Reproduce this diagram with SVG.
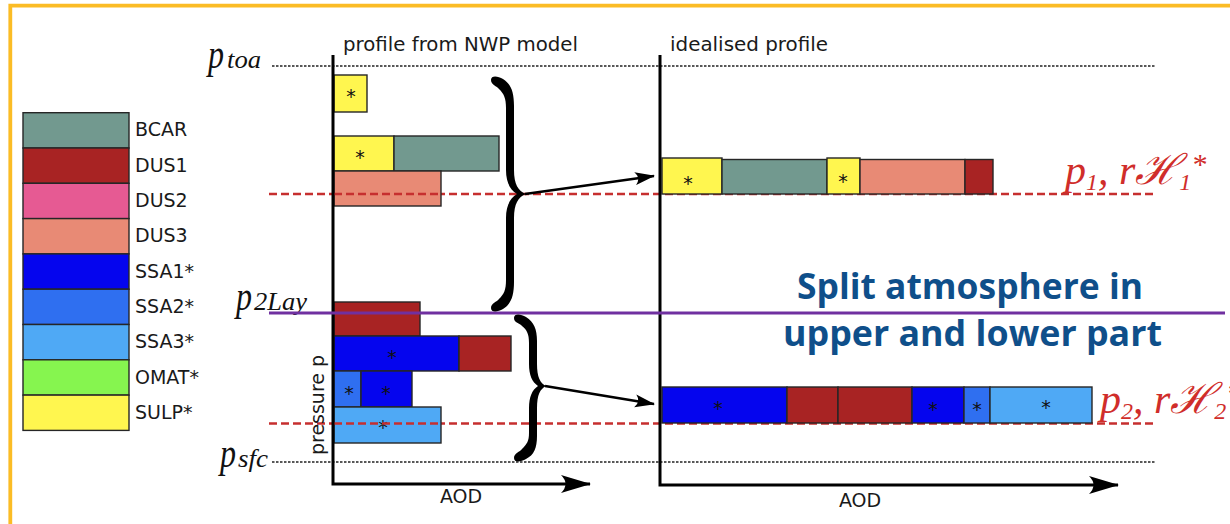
<svg xmlns="http://www.w3.org/2000/svg" width="1230" height="524" viewBox="0 0 1230 524">
  <style>
    .bar { stroke: #262626; stroke-width: 1.4; }
    .bcar { fill: #72998f; }
    .dus1 { fill: #a82323; }
    .dus2 { fill: #e65a93; }
    .dus3 { fill: #e88a75; }
    .ssa1 { fill: #0505ee; }
    .ssa2 { fill: #2f6ff0; }
    .ssa3 { fill: #4fa9f5; }
    .omat { fill: #86f54f; }
    .sulp { fill: #fff64f; }
    .lbl { font-family: "DejaVu Sans", "Liberation Sans", sans-serif; font-size: 19px; fill: #1a1a1a; }
    .star { font-family: "DejaVu Sans", sans-serif; font-size: 19px; fill: #111; text-anchor: middle; }
    .math { font-family: "Liberation Serif", "DejaVu Serif", serif; font-style: italic; fill: #111; }
    .redmath { font-family: "Liberation Serif", "DejaVu Serif", serif; font-style: italic; fill: #d02d2a; }
    .title { font-family: "Open Sans", "Noto Sans", sans-serif; font-weight: bold; font-size: 36px; fill: #0f4f8a; }
    .dots { stroke: #222; stroke-width: 1.6; stroke-dasharray: 2.5 1.5; fill: none; }
    .reddash { stroke: #c62f2f; stroke-width: 2.6; stroke-dasharray: 8 4; fill: none; }
    .axis { stroke: #000; stroke-width: 3; fill: none; }
    .conn { stroke: #000; stroke-width: 2.6; fill: none; }
    .brace { fill: #000; }
  </style>
  <defs>
    <marker id="axisHead" viewBox="0 0 30 20" refX="29" refY="10" markerWidth="30" markerHeight="20" markerUnits="userSpaceOnUse" orient="auto">
      <path d="M30,10 L0,1 Q9,10 0,19 Z" fill="#000"/>
    </marker>
    <marker id="connHead" viewBox="0 0 20 14" refX="19" refY="7" markerWidth="20" markerHeight="14" markerUnits="userSpaceOnUse" orient="auto">
      <path d="M20,7 L0,0.5 Q6,7 0,13.5 Z" fill="#000"/>
    </marker>
  </defs>

  <!-- frame -->
  <rect width="1230" height="524" fill="#ffffff"/>
  <path d="M10.3,524 L10.3,5.7 L1230,5.7" fill="none" stroke="#fbbc25" stroke-width="3.8"/>

  <!-- legend -->
  <g id="legend">
    <g id="legend-bcar"><rect class="bar bcar" x="23" y="112.7" width="106" height="35.3"/><text class="lbl" x="135" y="136.4">BCAR</text></g>
    <g id="legend-dus1"><rect class="bar dus1" x="23" y="148" width="106" height="35.3"/><text class="lbl" x="135" y="171.7">DUS1</text></g>
    <g id="legend-dus2"><rect class="bar dus2" x="23" y="183.3" width="106" height="35.3"/><text class="lbl" x="135" y="207">DUS2</text></g>
    <g id="legend-dus3"><rect class="bar dus3" x="23" y="218.6" width="106" height="35.3"/><text class="lbl" x="135" y="242.3">DUS3</text></g>
    <g id="legend-ssa1"><rect class="bar ssa1" x="23" y="253.9" width="106" height="35.3"/><text class="lbl" x="135" y="277.6">SSA1*</text></g>
    <g id="legend-ssa2"><rect class="bar ssa2" x="23" y="289.2" width="106" height="35.3"/><text class="lbl" x="135" y="312.9">SSA2*</text></g>
    <g id="legend-ssa3"><rect class="bar ssa3" x="23" y="324.5" width="106" height="35.3"/><text class="lbl" x="135" y="348.2">SSA3*</text></g>
    <g id="legend-omat"><rect class="bar omat" x="23" y="359.8" width="106" height="35.3"/><text class="lbl" x="135" y="383.5">OMAT*</text></g>
    <g id="legend-sulp"><rect class="bar sulp" x="23" y="395.1" width="106" height="35.3"/><text class="lbl" x="135" y="418.8">SULP*</text></g>
  </g>

  <!-- pressure levels -->
  <g id="levels">
    <line class="dots" x1="272" y1="66" x2="1155" y2="66"/>
    <line class="dots" x1="272" y1="462" x2="1155" y2="462"/>
    <line class="reddash" x1="269" y1="194" x2="1155" y2="194"/>
    <line class="reddash" x1="269" y1="423.5" x2="1155" y2="423.5"/>
  </g>

  <!-- level labels -->
  <g id="level-labels">
    <text class="math" x="208" y="68" font-size="43" textLength="16" lengthAdjust="spacingAndGlyphs">p</text>
    <text class="math" x="227" y="68" font-size="25" textLength="34" lengthAdjust="spacingAndGlyphs">toa</text>
    <text class="math" x="236" y="310" font-size="43" textLength="16" lengthAdjust="spacingAndGlyphs">p</text>
    <text class="math" x="254" y="310" font-size="25" textLength="53" lengthAdjust="spacingAndGlyphs">2Lay</text>
    <text class="math" x="220" y="467" font-size="43" textLength="16" lengthAdjust="spacingAndGlyphs">p</text>
    <text class="math" x="238" y="467" font-size="25" textLength="30" lengthAdjust="spacingAndGlyphs">sfc</text>
    <text class="redmath" x="1065" y="184" font-size="42"><tspan>p</tspan><tspan font-size="24" dy="6">1</tspan><tspan dy="-6">, r</tspan><tspan>ℋ</tspan><tspan font-size="24" dy="6">1</tspan><tspan font-size="30" dy="-16">*</tspan></text>
    <text class="redmath" x="1100" y="413" font-size="42"><tspan>p</tspan><tspan font-size="24" dy="6">2</tspan><tspan dy="-6">, r</tspan><tspan>ℋ</tspan><tspan font-size="24" dy="6">2</tspan><tspan font-size="30" dy="-16">*</tspan></text>
  </g>

  <!-- NWP model profile -->
  <g id="nwp-profile">
    <text class="lbl" x="343" y="51" textLength="235" lengthAdjust="spacingAndGlyphs">profile from NWP model</text>
    <g id="nwp-layer-top">
      <rect class="bar sulp" x="334" y="75" width="33" height="37"/>
      <text class="star" x="351" y="103">*</text>
    </g>
    <g id="nwp-layer-upper">
      <rect class="bar sulp" x="334" y="136" width="60" height="35"/>
      <text class="star" x="360" y="164">*</text>
      <rect class="bar bcar" x="394" y="136" width="105" height="35"/>
      <rect class="bar dus3" x="334" y="171" width="107" height="35"/>
    </g>
    <g id="nwp-layer-lower">
      <rect class="bar dus1" x="334" y="302" width="86" height="34"/>
      <rect class="bar ssa1" x="334" y="336" width="125" height="35"/>
      <text class="star" x="392" y="364">*</text>
      <rect class="bar dus1" x="459" y="336" width="52" height="35"/>
      <rect class="bar ssa2" x="334" y="371" width="27" height="36"/>
      <text class="star" x="349" y="400">*</text>
      <rect class="bar ssa1" x="361" y="371" width="51" height="36"/>
      <text class="star" x="386" y="400">*</text>
      <rect class="bar ssa3" x="334" y="407" width="107" height="36"/>
      <text class="star" x="383" y="434">*</text>
    </g>
    <line class="reddash" x1="334" y1="194" x2="441" y2="194"/>
    <line class="reddash" x1="334" y1="423.5" x2="441" y2="423.5"/>
    <path class="axis" d="M333,55 L333,484 L590,484" marker-end="url(#axisHead)"/>
    <text class="lbl" x="461" y="503" text-anchor="middle">AOD</text>
    <text class="lbl" transform="translate(324,405) rotate(-90)" text-anchor="middle">pressure p</text>
  </g>

  <!-- idealised profile -->
  <g id="idealised-profile">
    <text class="lbl" x="670" y="51" textLength="158" lengthAdjust="spacingAndGlyphs">idealised profile</text>
    <g id="ideal-layer-upper">
      <rect class="bar sulp" x="662" y="158" width="60" height="36"/>
      <text class="star" x="688" y="190">*</text>
      <rect class="bar bcar" x="722" y="159.5" width="105" height="34.5"/>
      <rect class="bar sulp" x="827" y="158" width="33" height="36"/>
      <text class="star" x="843" y="188">*</text>
      <rect class="bar dus3" x="860" y="159.5" width="105" height="34.5"/>
      <rect class="bar dus1" x="965" y="159.5" width="28" height="34.5"/>
    </g>
    <g id="ideal-layer-lower">
      <rect class="bar ssa1" x="662" y="387" width="125" height="36"/>
      <text class="star" x="718" y="415">*</text>
      <rect class="bar dus1" x="787" y="387" width="51" height="36"/>
      <rect class="bar dus1" x="838" y="387" width="74" height="36"/>
      <rect class="bar ssa1" x="912" y="387" width="52" height="36"/>
      <text class="star" x="933" y="416">*</text>
      <rect class="bar ssa2" x="964" y="387" width="26" height="36"/>
      <text class="star" x="977" y="416">*</text>
      <rect class="bar ssa3" x="990" y="387" width="102" height="36"/>
      <text class="star" x="1046" y="414">*</text>
    </g>
    <path class="axis" d="M660,55 L660,485 L1118,485" marker-end="url(#axisHead)"/>
    <text class="lbl" x="860" y="507" text-anchor="middle">AOD</text>
  </g>

  <!-- split level -->
  <g id="split">
    <line x1="269" y1="313" x2="1225" y2="313" stroke="#7030a0" stroke-width="3"/>
    <text class="title" x="797" y="299" textLength="346" lengthAdjust="spacingAndGlyphs">Split atmosphere in</text>
    <text class="title" x="783" y="346" textLength="379" lengthAdjust="spacingAndGlyphs">upper and lower part</text>
  </g>

  <!-- braces and connectors -->
  <g id="connectors">
    <path class="brace" d="M491,80 C491,75 498,76 503,79 C511,84 514,92 514,106 L514,170 C514,184 518,191 526,194 C518,197 514,204 514,218 L514,282 C514,296 511,304 503,309 C498,312 491,313 491,308 C491,303 497,302 499,299 C504,294 506,290 506,280 L506,218 C506,206 510,198 517,194 C510,190 506,182 506,170 L506,108 C506,98 504,94 499,89 C497,86 491,85 491,80 Z"/>
    <path class="brace" d="M514,318 C514,313 521,314 526,317 C534,322 537,329 537,341 L537,364 C537,377 540,383 546,386 C540,389 537,395 537,408 L537,436 C537,448 534,455 526,459 C521,462 514,463 514,458 C514,453 520,452 522,449 C527,444 529,441 529,433 L529,408 C529,397 532,390 538,386 C532,382 529,375 529,364 L529,343 C529,334 527,330 522,326 C520,323 514,323 514,318 Z"/>
    <line class="conn" x1="525" y1="194" x2="654" y2="176" marker-end="url(#connHead)"/>
    <line class="conn" x1="545" y1="386" x2="654" y2="404" marker-end="url(#connHead)"/>
  </g>
</svg>
